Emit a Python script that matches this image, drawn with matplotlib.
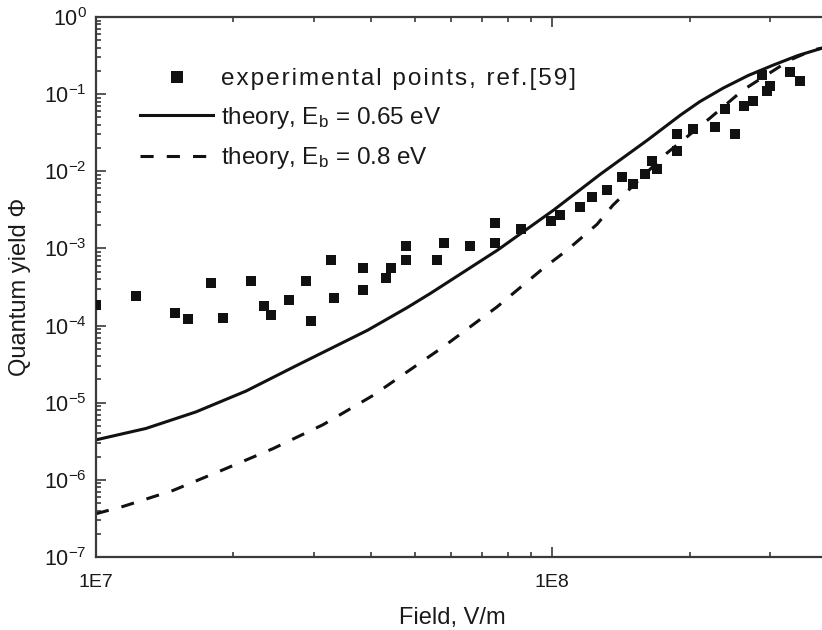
import matplotlib
matplotlib.use("Agg")
import matplotlib.pyplot as plt
from matplotlib.ticker import LogLocator, FixedLocator, FuncFormatter, NullFormatter

plt.rcParams['font.family'] = ['Liberation Sans', 'DejaVu Sans']
plt.rcParams['mathtext.fontset'] = 'custom'
plt.rcParams['mathtext.rm'] = 'Liberation Sans'
plt.rcParams['mathtext.it'] = 'Liberation Sans:italic'

# Experimental quantum yield vs. field (ref. [59])
exp_field = [1.0e7, 1.224e7, 1.487e7, 1.591e7, 1.789e7, 1.898e7, 2.189e7, 2.337e7,
             2.42e7, 2.655e7, 2.888e7, 2.962e7, 3.275e7, 3.331e7, 3.843e7, 3.843e7,
             4.32e7, 4.43e7, 4.78e7, 4.78e7, 5.58e7, 5.79e7, 6.60e7, 7.50e7, 7.50e7,
             8.56e7, 9.96e7, 1.038e8, 1.150e8, 1.222e8, 1.318e8, 1.421e8, 1.502e8,
             1.599e8, 1.657e8, 1.696e8, 1.875e8, 1.875e8, 2.03e8, 2.27e8, 2.39e8,
             2.51e8, 2.63e8, 2.76e8, 2.88e8, 2.95e8, 3.00e8, 3.32e8, 3.49e8]
exp_yield = [1.87e-4, 2.40e-4, 1.46e-4, 1.22e-4, 3.57e-4, 1.24e-4, 3.76e-4, 1.78e-4,
             1.36e-4, 2.17e-4, 3.76e-4, 1.14e-4, 7.18e-4, 2.28e-4, 5.58e-4, 2.93e-4,
             4.15e-4, 5.58e-4, 1.07e-3, 7.18e-4, 7.18e-4, 1.18e-3, 1.07e-3, 2.14e-3, 1.18e-3,
             1.76e-3, 2.25e-3, 2.75e-3, 3.46e-3, 4.58e-3, 5.69e-3, 8.32e-3, 6.81e-3,
             9.18e-3, 1.37e-2, 1.06e-2, 3.03e-2, 1.85e-2, 3.49e-2, 3.71e-2, 6.34e-2,
             3.03e-2, 7.0e-2, 8.13e-2, 0.177, 0.111, 0.127, 0.192, 0.149]

# Theory, binding energy 0.65 eV
th065_field = [1.0e7, 1.287e7, 1.656e7, 2.132e7, 2.744e7, 3.936e7, 4.80e7, 5.41e7,
               7.58e7, 1.006e8, 1.275e8, 1.617e8, 1.91e8, 2.107e8, 2.37e8, 2.685e8,
               3.05e8, 3.455e8, 3.91e8]
th065_yield = [3.3e-6, 4.64e-6, 7.60e-6, 1.416e-5, 3.01e-5, 8.69e-5, 1.7e-4, 2.62e-4,
               9.48e-4, 3.13e-3, 9.18e-3, 2.54e-2, 5.36e-2, 8.02e-2, 0.120, 0.174,
               0.238, 0.317, 0.396]

# Theory, binding energy 0.8 eV
th080_field = [1.0e7, 1.146e7, 1.475e7, 1.898e7, 2.443e7, 3.145e7, 4.05e7, 5.76e7,
               7.56e7, 9.54e7, 1.077e8, 1.253e8, 1.358e8, 1.783e8, 1.934e8, 2.217e8,
               2.618e8, 3.319e8, 3.726e8, 3.9e8]
th080_yield = [3.64e-7, 4.52e-7, 7.29e-7, 1.35e-6, 2.54e-6, 5.19e-6, 1.245e-5, 5.27e-5,
               1.74e-4, 5.48e-4, 9.48e-4, 2.05e-3, 3.64e-3, 1.72e-2, 2.54e-2, 4.9e-2,
               0.113, 0.277, 0.373, 0.396]

x_major = [1e7, 1e8]
x_major_labels = ['1E7', '1E8']

exp_label = '\u200a'.join('experimental points, ref.[59]')

W, H = 822, 630
fig = plt.figure(figsize=(W / 100, H / 100), dpi=100)
ax = fig.add_axes([96 / W, (H - 557) / H, (827 - 96) / W, (557 - 17) / H])

ink = '#111111'
ax.plot(exp_field, exp_yield, 's', color=ink, markersize=7.6, markeredgewidth=0,
        label=exp_label, zorder=3)
ax.plot(th065_field, th065_yield, '-', color=ink, lw=2.2,
        label=r'theory, $\mathregular{E_b}$ = 0.65 eV')
ax.plot(th080_field, th080_yield, '--', color=ink, lw=2.2, dashes=(4.3, 4.3),
        label=r'theory, $\mathregular{E_b}$ = 0.8 eV')

ax.set_xscale('log')
ax.set_yscale('log')
ax.set_xlim(1e7, 4e8)
ax.set_ylim(1e-7, 1)

ax.xaxis.set_major_locator(FixedLocator(x_major))
ax.xaxis.set_major_formatter(FuncFormatter(
    lambda v, p: x_major_labels[x_major.index(v)] if v in x_major else ''))
ax.xaxis.set_minor_locator(LogLocator(base=10, subs=range(2, 10)))
ax.xaxis.set_minor_formatter(NullFormatter())
ax.yaxis.set_major_locator(LogLocator(base=10, numticks=20))
ax.yaxis.set_minor_locator(LogLocator(base=10, subs=range(2, 10), numticks=20))
ax.yaxis.set_minor_formatter(NullFormatter())

spine_c = '#3a3a3a'
for s in ax.spines.values():
    s.set_color(spine_c)
    s.set_linewidth(1.6)
ax.tick_params(which='both', direction='in', color=spine_c, width=1.2, top=True)
ax.tick_params(which='major', length=7.5)
ax.tick_params(which='minor', length=3.8)
ax.tick_params(axis='y', which='major', labelsize=15.5, pad=6.5, labelcolor='#1a1a1a')
ax.tick_params(axis='x', which='major', labelsize=14, pad=12, labelcolor='#1a1a1a')

ax.set_xlabel('Field, V/m', fontsize=17, color='#1a1a1a')
ax.xaxis.set_label_coords((452 - 96) / (827 - 96), -0.092)
ax.set_ylabel('Quantum yield Φ', fontsize=17, color='#1a1a1a')
ax.yaxis.set_label_coords(-(96 - 31) / (827 - 96), 0.5)

leg = ax.legend(loc='upper left', bbox_to_anchor=(0.047, 0.923), frameon=False,
                fontsize=17.5, handlelength=3.0, handletextpad=0.32,
                labelspacing=0.6, borderaxespad=0, markerscale=1.2)
for t in leg.get_texts():
    t.set_color('#1a1a1a')

fig.savefig('out.png', dpi=100)
